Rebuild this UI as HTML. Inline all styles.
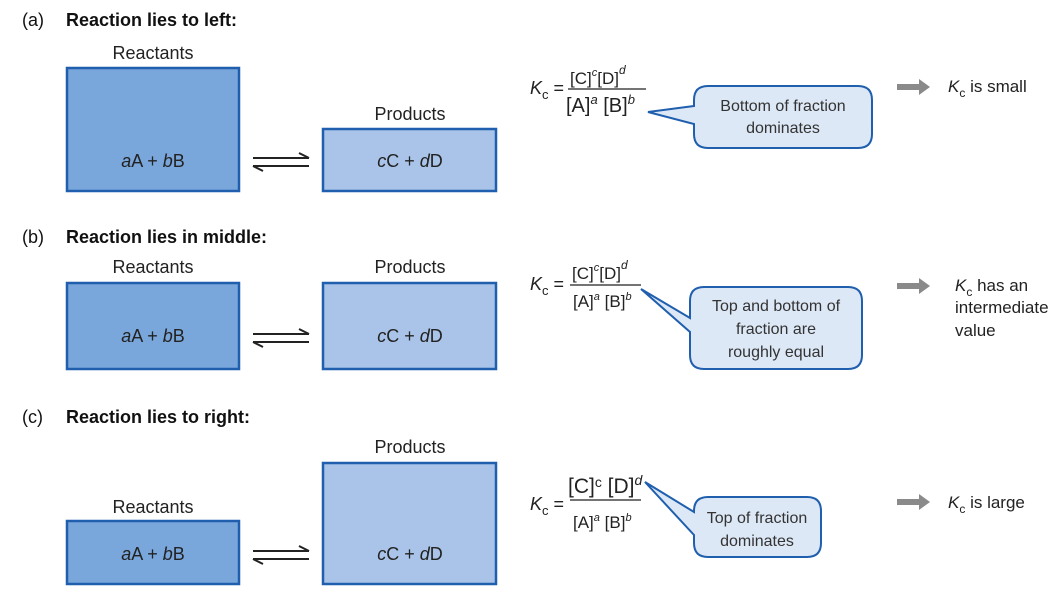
<!DOCTYPE html>
<html><head><meta charset="utf-8"><style>
body{margin:0;background:#fff}
svg{display:block;font-family:"Liberation Sans",sans-serif}
</style></head><body>
<svg width="1056" height="602" viewBox="0 0 1056 602">
<defs>
<g id="eq"><path d="M0 0H56M56 0L46 -5M0 8H56M0 8L10 13" stroke="#222" stroke-width="2" fill="none"/></g>
<g id="arr"><path d="M0 -3H22V-8L33 0L22 8V3H0Z" fill="#8a8a8a"/></g>
</defs>
<g fill="#111" font-size="18">
<text x="22" y="26">(a)</text><text x="66" y="26" font-weight="bold">Reaction lies to left:</text>
<text x="22" y="243">(b)</text><text x="66" y="243" font-weight="bold">Reaction lies in middle:</text>
<text x="22" y="423">(c)</text><text x="66" y="423" font-weight="bold">Reaction lies to right:</text>
</g>
<g stroke="#1f5fae" stroke-width="2.5">
<rect x="67" y="68" width="172" height="123" fill="#7aa7db"/>
<rect x="323" y="129" width="173" height="62" fill="#a9c4e8"/>
<rect x="67" y="283" width="172" height="86" fill="#7aa7db"/>
<rect x="323" y="283" width="173" height="86" fill="#a9c4e8"/>
<rect x="67" y="521" width="172" height="63" fill="#7aa7db"/>
<rect x="323" y="463" width="173" height="121" fill="#a9c4e8"/>
</g>
<g font-size="18" fill="#222" text-anchor="middle">
<text x="153" y="59">Reactants</text><text x="410" y="120">Products</text>
<text x="153" y="273">Reactants</text><text x="410" y="273">Products</text>
<text x="153" y="513">Reactants</text><text x="410" y="453">Products</text>
<g font-size="18">
<text x="153" y="167"><tspan font-style="italic">a</tspan>A + <tspan font-style="italic">b</tspan>B</text>
<text x="410" y="167"><tspan font-style="italic">c</tspan>C + <tspan font-style="italic">d</tspan>D</text>
<text x="153" y="342"><tspan font-style="italic">a</tspan>A + <tspan font-style="italic">b</tspan>B</text>
<text x="410" y="342"><tspan font-style="italic">c</tspan>C + <tspan font-style="italic">d</tspan>D</text>
<text x="153" y="560"><tspan font-style="italic">a</tspan>A + <tspan font-style="italic">b</tspan>B</text>
<text x="410" y="560"><tspan font-style="italic">c</tspan>C + <tspan font-style="italic">d</tspan>D</text>
</g></g>
<use href="#eq" x="253" y="158"/><use href="#eq" x="253" y="334"/><use href="#eq" x="253" y="551"/>
<!-- formulas -->
<g fill="#222" font-size="18">
<text x="530" y="94"><tspan font-style="italic">K</tspan><tspan font-size="13" dy="5">c</tspan><tspan dy="-5"> =</tspan></text>
<text x="570" y="84" font-size="17">[C]<tspan font-size="11" dy="-8" font-style="italic">c</tspan><tspan dy="8">[D]</tspan><tspan font-size="12" dy="-10" font-style="italic">d</tspan></text>
<line x1="568" y1="89" x2="646" y2="89" stroke="#222" stroke-width="1.3"/>
<text x="566" y="112" font-size="20">[A]<tspan font-size="13" dy="-8" font-style="italic">a</tspan><tspan dy="8"> [B]</tspan><tspan font-size="13" dy="-8" font-style="italic">b</tspan></text>

<text x="530" y="290"><tspan font-style="italic">K</tspan><tspan font-size="13" dy="5">c</tspan><tspan dy="-5"> =</tspan></text>
<text x="572" y="279" font-size="17">[C]<tspan font-size="11" dy="-8" font-style="italic">c</tspan><tspan dy="8">[D]</tspan><tspan font-size="12" dy="-10" font-style="italic">d</tspan></text>
<line x1="570" y1="285" x2="641" y2="285" stroke="#222" stroke-width="1.3"/>
<text x="573" y="307" font-size="17">[A]<tspan font-size="11" dy="-7" font-style="italic">a</tspan><tspan dy="7"> [B]</tspan><tspan font-size="11" dy="-7" font-style="italic">b</tspan></text>

<text x="530" y="510"><tspan font-style="italic">K</tspan><tspan font-size="13" dy="5">c</tspan><tspan dy="-5"> =</tspan></text>
<text x="568" y="493" font-size="21">[C]<tspan font-size="14" dy="-6">c</tspan><tspan dy="6"> [D]</tspan><tspan font-size="14" dy="-8" font-style="italic">d</tspan></text>
<line x1="570" y1="500" x2="641" y2="500" stroke="#222" stroke-width="1.3"/>
<text x="573" y="528" font-size="17">[A]<tspan font-size="11" dy="-7" font-style="italic">a</tspan><tspan dy="7"> [B]</tspan><tspan font-size="11" dy="-7" font-style="italic">b</tspan></text>
</g>
<!-- callouts -->
<g fill="#dde8f6" stroke="#1f5fae" stroke-width="2">
<path d="M708 86H858Q872 86 872 100V134Q872 148 858 148H708Q694 148 694 134V124L648 112L694 106V100Q694 86 708 86Z"/>
<path d="M704 287H848Q862 287 862 301V355Q862 369 848 369H704Q690 369 690 355V332L641 289L690 318V301Q690 287 704 287Z"/>
<path d="M708 497H807Q821 497 821 511V543Q821 557 807 557H708Q694 557 694 543V535L645 482L694 512V511Q694 497 708 497Z"/>
</g>
<g font-size="16" fill="#333" text-anchor="middle">
<text x="783" y="111">Bottom of fraction</text><text x="783" y="133">dominates</text>
<text x="776" y="311">Top and bottom of</text><text x="776" y="334">fraction are</text><text x="776" y="357">roughly equal</text>
<text x="757" y="523">Top of fraction</text><text x="757" y="546">dominates</text>
</g>
<use href="#arr" x="897" y="87"/><use href="#arr" x="897" y="286"/><use href="#arr" x="897" y="502"/>
<g fill="#222" font-size="17">
<text x="948" y="92"><tspan font-style="italic">K</tspan><tspan font-size="12" dy="5">c</tspan><tspan dy="-5"> is small</tspan></text>
<text x="955" y="291"><tspan font-style="italic">K</tspan><tspan font-size="12" dy="5">c</tspan><tspan dy="-5"> has an</tspan></text>
<text x="955" y="313">intermediate</text><text x="955" y="336">value</text>
<text x="948" y="508"><tspan font-style="italic">K</tspan><tspan font-size="12" dy="5">c</tspan><tspan dy="-5"> is large</tspan></text>
</g>
</svg>
</body></html>
